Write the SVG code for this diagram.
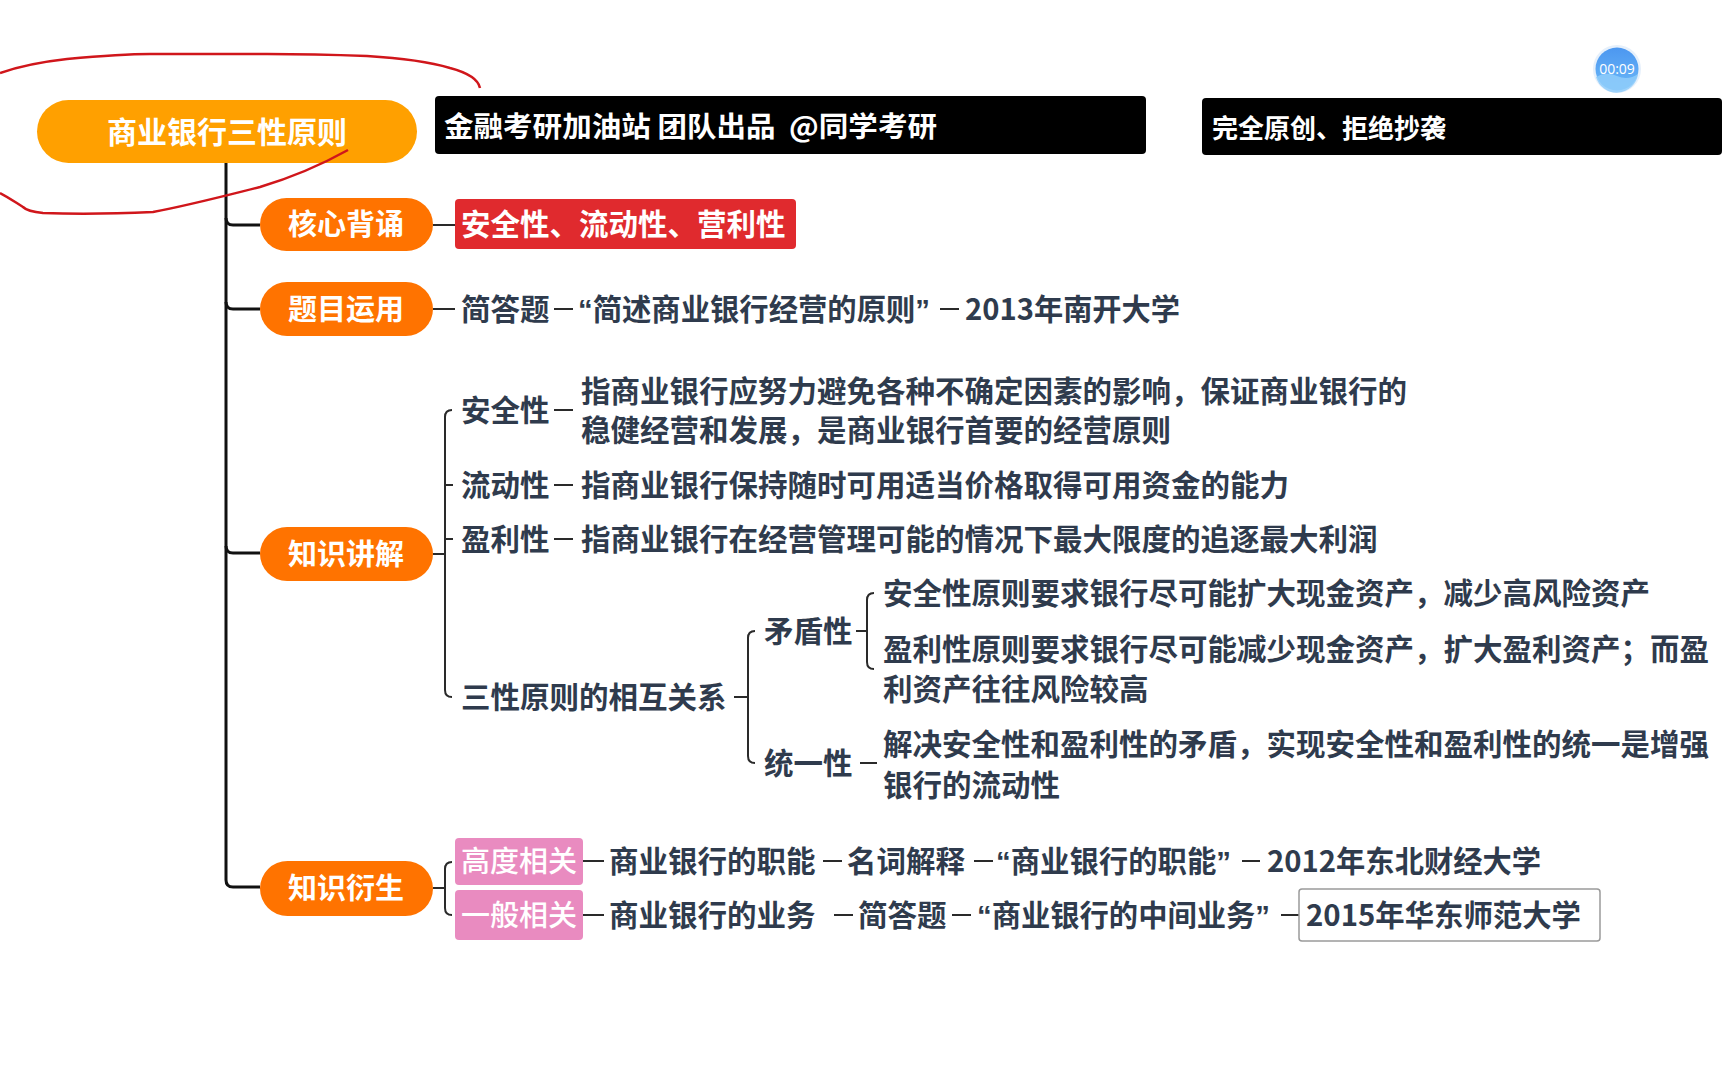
<svg xmlns="http://www.w3.org/2000/svg" width="1728" height="1080" viewBox="0 0 1728 1080">
<defs>
<style>
.t{font-family:"Noto Sans CJK SC","Microsoft YaHei",sans-serif;font-weight:700;fill:#2F3B4D;font-size:29.5px}
.w{font-family:"Noto Sans CJK SC",sans-serif;font-weight:700;fill:#fff}
.q{font-family:"Liberation Sans",sans-serif;font-weight:700}
.l1{fill:#FF7300}
.ln{fill:none;stroke:#2a2a2a;stroke-width:2}
.tr{fill:none;stroke:#111;stroke-width:3}
</style>
<linearGradient id="tg" x1="0" y1="0" x2="0" y2="1">
<stop offset="0" stop-color="#4C97F0"/>
<stop offset="1" stop-color="#6BB8F8"/>
</linearGradient>
</defs>
<rect width="1728" height="1080" fill="#fff"/>

<g id="connectors">
<path class="tr" d="M226,163 V880 Q226,887 233,887 H260"/>
<path class="tr" d="M226,218 Q226,225 233,225 H260"/>
<path class="tr" d="M226,302 Q226,309 233,309 H260"/>
<path class="tr" d="M226,546 Q226,553 233,553 H260"/>
<path class="ln" d="M433,225 H455"/>
<path class="ln" d="M433,309 H455 M554,309 H573 M940,309 H959"/>
<path class="ln" d="M433,554 H445 M452,410 Q445,410 445,417 V690 Q445,697 452,697 M445,485 H453 M445,539 H453"/>
<path class="ln" d="M554,410 H573 M554,485 H573 M554,539 H573"/>
<path class="ln" d="M734,697 H748 M755,631 Q748,631 748,638 V756 Q748,763 755,763"/>
<path class="ln" d="M856,631 H867 M874,593 Q867,593 867,600 V662 Q867,669 874,669"/>
<path class="ln" d="M860,763 H877"/>
<path class="ln" d="M433,888 H445 M452,862 Q445,862 445,869 V908 Q445,915 452,915"/>
<path class="ln" d="M583,861 H604 M823,861 H842 M974,861 H993 M1242,861 H1260"/>
<path class="ln" d="M583,915 H604 M834,915 H853 M952,915 H971 M1281,915 H1299"/>
</g>

<g id="banner1">
<rect x="435" y="96" width="711" height="58" rx="4" fill="#000"/>
<text class="w" x="444" y="137" font-size="28" textLength="493" lengthAdjust="spacingAndGlyphs" style="white-space:pre">金融考研加油站 团队出品  @同学考研</text>
</g>
<g id="banner2">
<rect x="1202" y="98" width="520" height="57" rx="4" fill="#000"/>
<text class="w" x="1212" y="138" font-size="26.5" textLength="234" lengthAdjust="spacingAndGlyphs">完全原创、拒绝抄袭</text>
</g>
<g id="timer">
<circle cx="1617" cy="69" r="24" fill="#e6f0fb"/>
<circle cx="1617" cy="69" r="21.5" fill="url(#tg)"/>
<path d="M1596,77 Q1606,71 1617,76 Q1628,81 1638,74 A21.5,21.5 0 0 1 1596,77 Z" fill="#8FCDFA" opacity="0.85"/>
<text x="1617" y="74" font-family="'Open Sans',sans-serif" font-size="14" fill="#fff" text-anchor="middle">00:09</text>
</g>

<g id="root">
<rect x="37" y="100" width="380" height="63" rx="31.5" fill="#FFA000"/>
<text class="w" x="227" y="143" font-size="30" text-anchor="middle">商业银行三性原则</text>
</g>

<g id="n-hexin">
<rect class="l1" x="260" y="198" width="173" height="53" rx="26.5"/>
<text class="w" x="346" y="235" font-size="29" text-anchor="middle">核心背诵</text>
</g>
<g id="n-hexin-c">
<rect x="455" y="199" width="341" height="50" rx="4" fill="#E02A2E"/>
<text class="w" x="461" y="235" font-size="29.5">安全性、流动性、营利性</text>
</g>

<g id="n-timu">
<rect class="l1" x="260" y="282" width="173" height="54" rx="27"/>
<text class="w" x="346" y="320" font-size="29" text-anchor="middle">题目运用</text>
</g>
<g id="n-timu-1"><text class="t" x="461" y="320">简答题</text></g>
<g id="n-timu-2"><text class="t" x="578" y="320" textLength="352" lengthAdjust="spacingAndGlyphs"><tspan class="q">“</tspan>简述商业银行经营的原则<tspan class="q">”</tspan></text></g>
<g id="n-timu-3"><text class="t" x="965" y="320" textLength="215" lengthAdjust="spacingAndGlyphs">2013年南开大学</text></g>

<g id="n-zhishi">
<rect class="l1" x="260" y="527" width="173" height="54" rx="27"/>
<text class="w" x="346" y="565" font-size="29" text-anchor="middle">知识讲解</text>
</g>
<g id="n-anquan"><text class="t" x="461" y="421">安全性</text></g>
<g id="n-anquan-d"><text class="t" x="581" y="402">指商业银行应努力避免各种不确定因素的影响，保证商业银行的</text><text class="t" x="581" y="441">稳健经营和发展，是商业银行首要的经营原则</text></g>
<g id="n-liudong"><text class="t" x="461" y="496">流动性</text></g>
<g id="n-liudong-d"><text class="t" x="581" y="496">指商业银行保持随时可用适当价格取得可用资金的能力</text></g>
<g id="n-yingli"><text class="t" x="461" y="550">盈利性</text></g>
<g id="n-yingli-d"><text class="t" x="581" y="550">指商业银行在经营管理可能的情况下最大限度的追逐最大利润</text></g>
<g id="n-guanxi"><text class="t" x="461" y="708">三性原则的相互关系</text></g>
<g id="n-maodun"><text class="t" x="764" y="642">矛盾性</text></g>
<g id="n-maodun-1"><text class="t" x="883" y="604">安全性原则要求银行尽可能扩大现金资产，减少高风险资产</text></g>
<g id="n-maodun-2"><text class="t" x="883" y="660">盈利性原则要求银行尽可能减少现金资产，扩大盈利资产；而盈</text><text class="t" x="883" y="700">利资产往往风险较高</text></g>
<g id="n-tongyi"><text class="t" x="764" y="774">统一性</text></g>
<g id="n-tongyi-d"><text class="t" x="883" y="755">解决安全性和盈利性的矛盾，实现安全性和盈利性的统一是增强</text><text class="t" x="883" y="796">银行的流动性</text></g>

<g id="n-yansheng">
<rect class="l1" x="260" y="861" width="173" height="55" rx="27.5"/>
<text class="w" x="346" y="899" font-size="29" text-anchor="middle">知识衍生</text>
</g>
<g id="n-gaodu">
<rect x="455" y="838" width="128" height="47" rx="4" fill="#E98BC0"/>
<text x="461" y="872" font-family="Noto Sans CJK SC,sans-serif" font-size="29" font-weight="500" fill="#fff">高度相关</text>
</g>
<g id="n-g1"><text class="t" x="609" y="872">商业银行的职能</text></g>
<g id="n-g2"><text class="t" x="847" y="872">名词解释</text></g>
<g id="n-g3"><text class="t" x="996" y="872" textLength="235" lengthAdjust="spacingAndGlyphs"><tspan class="q">“</tspan>商业银行的职能<tspan class="q">”</tspan></text></g>
<g id="n-g4"><text class="t" x="1267" y="872" textLength="274" lengthAdjust="spacingAndGlyphs">2012年东北财经大学</text></g>
<g id="n-yiban">
<rect x="455" y="890" width="128" height="50" rx="4" fill="#E98BC0"/>
<text x="461" y="926" font-family="Noto Sans CJK SC,sans-serif" font-size="29" font-weight="500" fill="#fff">一般相关</text>
</g>
<g id="n-y1"><text class="t" x="609" y="926">商业银行的业务</text></g>
<g id="n-y2"><text class="t" x="858" y="926">简答题</text></g>
<g id="n-y3"><text class="t" x="977" y="926" textLength="293" lengthAdjust="spacingAndGlyphs"><tspan class="q">“</tspan>商业银行的中间业务<tspan class="q">”</tspan></text></g>
<g id="n-y4">
<rect x="1299" y="889" width="301" height="52" rx="3" fill="#fff" stroke="#9a9a9a" stroke-width="1.5"/>
<text class="t" x="1306" y="926" textLength="275" lengthAdjust="spacingAndGlyphs">2015年华东师范大学</text>
</g>

<g id="annotation">
<path d="M0,73 C20,66 40,62 67,59 C100,56 130,54 150,54 L267,54 C310,54 340,55 367,56 C400,58 430,62 450,68 C465,72 478,78 480,88" fill="none" stroke="#D0161B" stroke-width="2.5"/>
<path d="M348,150 C330,160 300,175 260,187 C220,197 190,205 153,212 C110,214 70,214 43,213 C33,212 26,210 23,207 C15,202 8,197 0,193" fill="none" stroke="#D0161B" stroke-width="2.5"/>
</g>
</svg>
